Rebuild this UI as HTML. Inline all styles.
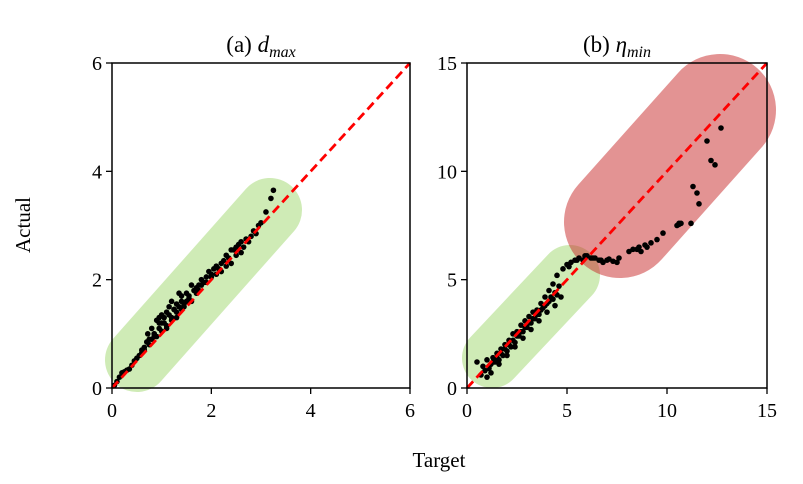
<!DOCTYPE html>
<html><head><meta charset="utf-8"><style>
body{margin:0;background:#fff}
svg{display:block;font-family:"Liberation Serif",serif}
</style></head><body>
<svg id="chart" width="803" height="484">
<g id="pa"></g>
<g id="pb"></g>
<text x="30" y="225" font-size="21" text-anchor="middle" transform="rotate(-90 30 225)">Actual</text>
<text x="439" y="467" font-size="21" text-anchor="middle">Target</text>
</svg>
<script>
const ticksA=[0,2,4,6];
const ticksB=[0,5,10,15];
const targetA=[0.05,0.1,0.15,0.2,0.25,0.3,0.35,0.4,0.45,0.5,0.55,0.6,0.65,0.7,0.72,0.75,0.8,0.8,0.85,0.9,0.9,0.95,1.0,1.0,1.05,1.1,1.1,1.15,1.2,1.2,1.25,1.3,1.3,1.35,1.4,1.4,1.45,1.5,1.5,1.55,1.6,1.65,1.7,1.75,1.8,1.85,1.9,1.95,2.0,2.05,2.1,2.15,2.2,2.25,2.3,2.35,2.4,2.45,2.5,2.55,2.6,2.7,2.8,2.85,2.95,3.0,3.1,3.2,3.25,
0.75,0.85,0.95,1.0,1.05,1.1,1.15,1.2,1.25,1.3,1.35,1.4,1.45,1.55,1.6,1.7,1.75,1.8,1.9,2.0,2.1,2.2,2.3,2.4,2.5,2.6,2.65,2.75,2.9,0.6,0.65,0.85,0.95];
const actualA=[0.05,0.12,0.2,0.28,0.3,0.33,0.35,0.42,0.5,0.55,0.6,0.65,0.7,0.85,1.0,0.8,0.9,1.1,1.0,1.25,0.95,1.2,1.35,1.05,1.2,1.4,1.15,1.5,1.3,1.6,1.45,1.3,1.55,1.75,1.45,1.6,1.5,1.6,1.75,1.65,1.9,1.8,1.85,1.9,2.0,1.95,2.05,2.15,2.1,2.2,2.25,2.2,2.3,2.35,2.45,2.4,2.55,2.55,2.6,2.65,2.7,2.75,2.8,2.9,3.0,3.05,3.25,3.5,3.65,
0.9,1.0,1.1,1.2,1.3,1.1,1.35,1.25,1.45,1.4,1.5,1.7,1.55,1.7,1.6,1.75,1.8,1.9,1.95,2.05,2.1,2.15,2.25,2.3,2.45,2.5,2.6,2.7,2.85,0.7,0.75,0.95,1.3];
const targetB=[0.5,0.7,0.8,1.0,1.0,1.1,1.2,1.3,1.4,1.5,1.6,1.7,1.8,1.9,2.0,2.1,2.2,2.3,2.4,2.5,2.6,2.7,2.8,2.9,3.0,3.1,3.2,3.3,3.4,3.5,3.6,3.7,3.8,3.9,4.0,4.1,4.2,4.3,4.4,4.5,4.6,4.8,5.0,5.2,5.4,5.6,5.8,6.0,6.2,6.4,6.6,6.8,7.0,7.3,7.6,8.1,8.3,8.6,8.9,9.2,9.5,9.8,10.5,10.6,10.7,11.3,11.5,11.6,12.0,12.2,12.4,12.7,
0.9,1.1,1.3,1.5,1.7,1.9,2.1,2.3,2.5,2.7,2.9,3.1,3.3,3.5,3.7,3.9,4.1,4.3,4.5,1.2,1.6,2.0,2.4,2.8,3.2,3.6,4.0,4.4,4.7,5.1,5.5,5.9,6.3,6.7,7.1,7.5,8.5,8.7,9.0,10.6,11.2];
const actualB=[1.2,0.6,1.0,0.5,1.3,0.9,1.1,1.4,1.2,1.6,1.3,1.8,1.5,2.0,1.7,2.2,1.9,2.5,2.1,2.6,2.4,2.9,2.6,3.1,2.8,3.3,3.0,3.5,3.2,3.6,3.4,3.9,3.7,4.2,3.9,4.5,4.2,4.8,4.4,5.2,4.7,5.5,5.7,5.8,5.9,6.0,5.9,6.1,6.0,6.0,5.9,5.8,5.9,5.85,6.0,6.3,6.4,6.5,6.6,6.7,6.85,7.15,7.5,7.55,7.6,9.3,9.0,8.5,11.4,10.5,10.3,12.0,
0.8,1.0,1.2,1.4,1.6,1.8,2.0,2.2,2.4,2.6,2.8,3.0,3.2,3.4,3.6,3.8,4.0,4.1,4.3,0.7,1.1,1.5,1.9,2.3,2.7,3.1,3.5,3.8,4.2,5.6,5.9,6.1,6.0,5.9,5.95,5.8,6.4,6.3,6.5,7.6,7.6];
const NS="http://www.w3.org/2000/svg";
function mk(tag,attrs,parent){const e=document.createElementNS(NS,tag);for(const k in attrs)e.setAttribute(k,attrs[k]);parent.appendChild(e);return e;}
function panel(g,x0,x1,y0,y1,max,ticks,title,sub,caps,xs,ys){
  const X=v=>x0+(x1-x0)*v/max, Y=v=>y0-(y0-y1)*v/max;
  caps.forEach(c=>{const l=mk('line',{x1:c[0],y1:c[1],x2:c[2],y2:c[3],stroke:c[5],'stroke-width':c[4],'stroke-linecap':'round'},g);
    
    });
  for(let i=0;i<xs.length;i++){const c=mk('circle',{cx:X(xs[i]),cy:Y(ys[i]),r:2.8,fill:'#000'},g);
    
    }
  const d=mk('line',{x1:X(0),y1:Y(0),x2:X(max),y2:Y(max),stroke:'#f00','stroke-width':2.8,'stroke-dasharray':'9,5'},g);
  
  
  const r=mk('rect',{x:x0,y:y1,width:x1-x0,height:y0-y1,fill:'none',stroke:'#000','stroke-width':1.5},g);
  
  
  ticks.forEach(t=>{
    mk('line',{x1:X(t),y1:y0,x2:X(t),y2:y0+6,stroke:'#000','stroke-width':1.3},g);
    const a=mk('text',{x:X(t),y:y0+29,'font-size':20,'text-anchor':'middle'},g);a.textContent=t;
    
    
    mk('line',{x1:x0-6,y1:Y(t),x2:x0,y2:Y(t),stroke:'#000','stroke-width':1.3},g);
    const b=mk('text',{x:x0-10,y:Y(t)+7,'font-size':20,'text-anchor':'end'},g);b.textContent=t;
    
    
  });
  const tt=mk('text',{x:(x0+x1)/2,y:52,'font-size':23,'text-anchor':'middle'},g);
  tt.innerHTML=title+' <tspan font-style="italic">'+sub[0]+'</tspan><tspan font-style="italic" font-size="16" dy="5">'+sub[1]+'</tspan>';
  
  
}
panel(document.getElementById('pa'),112,410,388,63,6,ticksA,'(a)',['d','max'],
 [[137,360,270,210,64,'rgba(160,215,110,0.5)']],targetA,actualA);
panel(document.getElementById('pb'),467,767,388,63,15,ticksB,'(b)',['η','min'],
 [[492,358,570,275,60,'rgba(160,215,110,0.5)'],[620,222,720,110,112,'rgba(200,40,40,0.5)']],targetB,actualB);
</script>
</body></html>
